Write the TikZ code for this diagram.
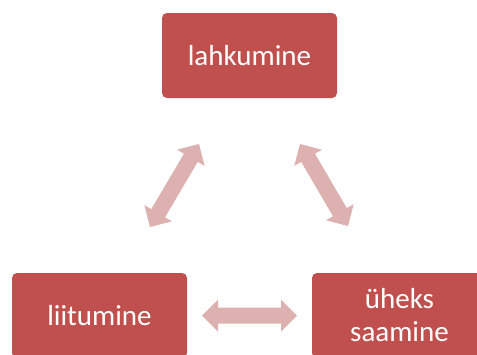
\documentclass[tikz,border=0pt]{standalone}
\usepackage{fontspec}
\setmainfont{Carlito}
\usetikzlibrary{calc}
\definecolor{boxred}{HTML}{C0504D}
\definecolor{arrowpink}{HTML}{DDB1B0}
\newcommand\blockarr[2]{%
  \fill[arrowfill] (#1)
    -- ($(#1)!16pt!(#2)!16pt!90:(#2)$)
    -- ($(#1)!16pt!(#2)!8pt!90:(#2)$)
    -- ($(#2)!16pt!(#1)!8pt!-90:(#1)$)
    -- ($(#2)!16pt!(#1)!16pt!-90:(#1)$)
    -- (#2)
    -- ($(#2)!16pt!(#1)!16pt!90:(#1)$)
    -- ($(#2)!16pt!(#1)!8pt!90:(#1)$)
    -- ($(#1)!16pt!(#2)!8pt!-90:(#2)$)
    -- ($(#1)!16pt!(#2)!16pt!-90:(#2)$)
    -- cycle;}
\begin{document}
\begin{tikzpicture}[x=1pt,y=-1pt,
  stagebox/.style={fill=boxred, draw=none, rounded corners=5pt,
    minimum width=175pt, minimum height=85pt, inner sep=2pt,
    text=white, align=center, font=\fontsize{29}{33}\selectfont},
  arrowfill/.style={fill=arrowpink}]
\useasboundingbox (0,0) rectangle (477,354);
\clip (0,0) rectangle (477,354);
\node[stagebox] (top) at (249.5,55.5) {lahkumine};
\node[stagebox] (left) at (99.5,315.5) {liitumine};
\node[stagebox] (right) at (399.5,315.5) {üheks\\saamine};
\coordinate (la) at (150,227);
\coordinate (lb) at (199,144);
\coordinate (ra) at (300,144);
\coordinate (rb) at (348,226);
\coordinate (ba) at (202,315.5);
\coordinate (bb) at (297,315.5);
\blockarr{la}{lb}
\blockarr{ra}{rb}
\blockarr{ba}{bb}
\end{tikzpicture}
\end{document}
